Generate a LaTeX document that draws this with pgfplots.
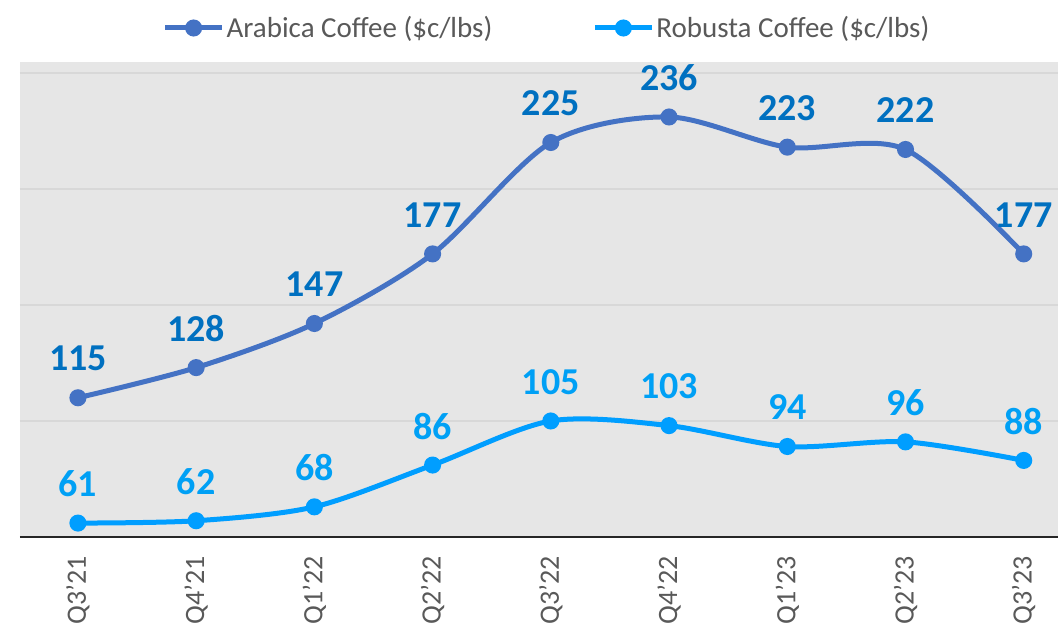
\documentclass[border=0pt]{standalone}
\usepackage{fontspec}
\setmainfont{Carlito}
\usepackage{pgfplots}
\pgfplotsset{compat=1.18}
\definecolor{arab}{RGB}{68,114,196}
\definecolor{arablbl}{RGB}{0,112,192}
\definecolor{robu}{RGB}{0,158,255}
\definecolor{robulbl}{RGB}{0,160,245}
\definecolor{bgg}{RGB}{230,230,230}
\definecolor{gridg}{RGB}{216,216,216}
\definecolor{txtg}{RGB}{89,89,89}
\begin{document}
\begin{tikzpicture}
\useasboundingbox (0,0) rectangle (529pt,313pt);
\begin{axis}[
  scale only axis,
  width=519pt, height=237.5pt,
  at={(10pt,44.5pt)}, anchor=south west,
  xmin=-0.49, xmax=8.29,
  ymin=55, ymax=259.7,
  xtick={0,...,8},
  xticklabels={Q3'21,Q4'21,Q1'22,Q2'22,Q3'22,Q4'22,Q1'23,Q2'23,Q3'23},
  xticklabel style={rotate=90, anchor=east, inner sep=0pt, font=\fontsize{14}{14}\selectfont, text=txtg},
  xticklabel shift=9.5pt,
  ytick={55,105,155,205,255},
  yticklabels={},
  major tick length=0pt,
  tick style={draw=none},
  ymajorgrids,
  grid style={gridg, line width=1pt},
  axis line style={draw=none},
  axis background/.style={fill=bgg},
  /pgf/number format/assume math mode=true,
  clip mode=individual,
  legend columns=2,
  legend style={at={(0.5,1)}, anchor=center, xshift=4pt, yshift=17pt, draw=none, fill=none,
    inner sep=0pt, font=\fontsize{14.5}{14.5}\selectfont, text=txtg,
    nodes={inner xsep=1pt, inner ysep=0pt},
    /tikz/every even column/.append style={column sep=49pt}},
  legend image code/.code={\draw[mark repeat=2,mark phase=2,#1] plot coordinates {(0pt,0pt) (14.25pt,0pt) (28.5pt,0pt)};},
  nodes near coords={\pgfmathprintnumber{\pgfplotspointmeta}},
  nodes near coords style={anchor=center, yshift=19.5pt, inner sep=0pt, font=\bfseries\fontsize{19}{19}\selectfont},
]
\addplot[arab, line width=2.5pt, smooth, mark=*, mark size=3pt, mark options={solid},
  nodes near coords style={text=arablbl}]
  coordinates {(0,115) (1,128) (2,147) (3,177) (4,225) (5,236) (6,223) (7,222) (8,177)};
\addlegendentry{Arabica Coffee (\$c/lbs)}
\addplot[robu, line width=2.5pt, smooth, mark=*, mark size=3pt, mark options={solid},
  nodes near coords style={text=robulbl}]
  coordinates {(0,61) (1,62) (2,68) (3,86) (4,105) (5,103) (6,94) (7,96) (8,88)};
\addlegendentry{Robusta Coffee (\$c/lbs)}
\draw[black!85, line width=1pt] (rel axis cs:0,0) -- (rel axis cs:1,0);
\end{axis}
\end{tikzpicture}
\end{document}
